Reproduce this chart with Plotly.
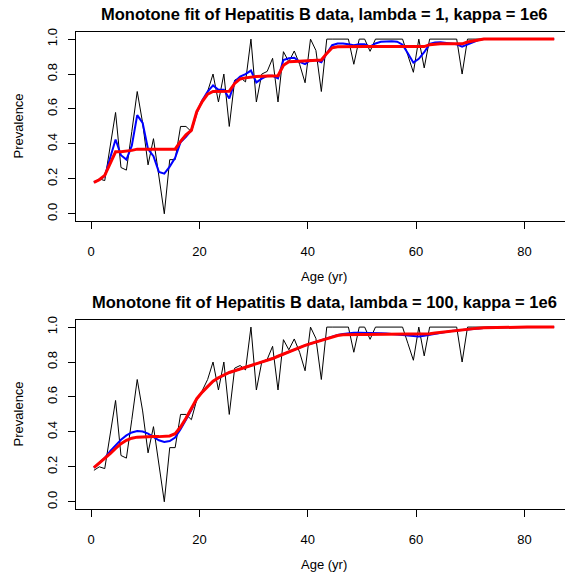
import plotly.graph_objects as go

# Age groups (years) and observed prevalence of Hepatitis B
ages = [a + 0.5 for a in range(86)]

observed = [
    0.18, 0.20, 0.19, 0.38, 0.58, 0.265, 0.25, 0.47, 0.70, 0.52,
    0.28, 0.43, 0.22, 0.00, 0.31, 0.31, 0.50, 0.50, 0.47, 0.585,
    0.636, 0.70, 0.80, 0.64, 0.80, 0.50, 0.765, 0.78, 0.755, 1.00,
    0.64, 0.80, 0.815, 0.89, 0.64, 0.928, 0.87, 0.932, 0.855, 0.75,
    1.00, 0.935, 0.70, 1.00, 1.00, 1.00, 1.00, 1.00, 0.856, 1.00,
    1.00, 0.93, 1.00, 1.00, 1.00, 1.00, 1.00, 1.00, 0.905, 0.81,
    1.00, 0.835, 1.00, 1.00, 1.00, 1.00, 1.00, 1.00, 0.80, 1.00,
    1.00, 1.00, 1.00, 1.00, 1.00, 1.00, 1.00, 1.00, 1.00, 1.00,
    1.00, 1.00, 1.00, 1.00, 1.00, 1.00,
]

# lambda = 1: unconstrained smooth (blue) and monotone fit (red)
smooth_l1 = [
    0.18, 0.195, 0.215, 0.32, 0.425, 0.335, 0.31, 0.39, 0.565, 0.52,
    0.37, 0.33, 0.24, 0.23, 0.27, 0.32, 0.41, 0.44, 0.478, 0.58,
    0.648, 0.70, 0.735, 0.71, 0.71, 0.66, 0.755, 0.785, 0.80, 0.82,
    0.752, 0.774, 0.79, 0.79, 0.775, 0.88, 0.89, 0.893, 0.87, 0.857,
    0.88, 0.88, 0.867, 0.918, 0.965, 0.975, 0.975, 0.97, 0.965, 0.97,
    0.97, 0.957, 0.975, 0.985, 0.988, 0.988, 0.985, 0.968, 0.918, 0.865,
    0.887, 0.925, 0.972, 0.98, 0.982, 0.978, 0.975, 0.97, 0.956, 0.97,
    0.985, 0.995, 1.0, 1.0, 1.0, 1.0, 1.0, 1.0, 1.0, 1.0,
    1.0, 1.0, 1.0, 1.0, 1.0, 1.0,
]
mono_l1 = [
    0.18, 0.195, 0.22, 0.287, 0.355, 0.355, 0.357, 0.363, 0.37, 0.37,
    0.37, 0.37, 0.37, 0.37, 0.37, 0.37, 0.415, 0.452, 0.478, 0.585,
    0.642, 0.685, 0.70, 0.70, 0.70, 0.702, 0.746, 0.772, 0.778, 0.784,
    0.786, 0.787, 0.788, 0.789, 0.79, 0.85, 0.87, 0.872, 0.874, 0.876,
    0.878, 0.879, 0.88, 0.918, 0.95, 0.956, 0.957, 0.957, 0.957, 0.957,
    0.957, 0.957, 0.957, 0.957, 0.957, 0.957, 0.957, 0.957, 0.957, 0.957,
    0.957, 0.957, 0.968, 0.972, 0.973, 0.973, 0.973, 0.973, 0.973, 0.983,
    0.99, 0.996, 1.0, 1.0, 1.0, 1.0, 1.0, 1.0, 1.0, 1.0,
    1.0, 1.0, 1.0, 1.0, 1.0, 1.0,
]

# lambda = 100: unconstrained smooth (blue) and monotone fit (red)
smooth_l100 = [
    0.195, 0.22, 0.25, 0.29, 0.325, 0.355, 0.38, 0.397, 0.405, 0.402,
    0.39, 0.37, 0.352, 0.343, 0.348, 0.368, 0.415, 0.47, 0.525, 0.59,
    0.628, 0.662, 0.69, 0.71, 0.725, 0.74, 0.75, 0.76, 0.77, 0.778,
    0.787, 0.797, 0.808, 0.82, 0.833, 0.846, 0.86, 0.872, 0.884, 0.895,
    0.905, 0.915, 0.925, 0.935, 0.945, 0.955, 0.96, 0.965, 0.967, 0.968,
    0.968, 0.967, 0.966, 0.965, 0.963, 0.96, 0.957, 0.953, 0.949, 0.946,
    0.946, 0.95, 0.956, 0.962, 0.968, 0.973, 0.977, 0.981, 0.984, 0.988,
    0.991, 0.994, 0.996, 0.997, 0.998, 0.998, 0.999, 0.999, 0.999, 1.0,
    1.0, 1.0, 1.0, 1.0, 1.0, 1.0,
]
mono_l100 = [
    0.195, 0.22, 0.245, 0.275, 0.305, 0.333, 0.352, 0.364, 0.37, 0.372,
    0.373, 0.373, 0.373, 0.374, 0.377, 0.39, 0.428, 0.478, 0.53, 0.59,
    0.628, 0.662, 0.69, 0.71, 0.725, 0.74, 0.75, 0.76, 0.77, 0.778,
    0.787, 0.797, 0.808, 0.82, 0.833, 0.846, 0.86, 0.872, 0.884, 0.895,
    0.905, 0.915, 0.925, 0.935, 0.945, 0.952, 0.956, 0.958, 0.958, 0.958,
    0.958, 0.958, 0.958, 0.958, 0.958, 0.958, 0.958, 0.958, 0.958, 0.958,
    0.958, 0.958, 0.962, 0.966, 0.97, 0.974, 0.977, 0.981, 0.984, 0.988,
    0.991, 0.994, 0.996, 0.997, 0.998, 0.998, 0.999, 0.999, 0.999, 1.0,
    1.0, 1.0, 1.0, 1.0, 1.0, 1.0,
]

x_ticks = [0, 20, 40, 60, 80]
y_ticks = [0.0, 0.2, 0.4, 0.6, 0.8, 1.0]

titles = [
    "Monotone fit of Hepatitis B data, lambda = 1, kappa = 1e6",
    "Monotone fit of Hepatitis B data, lambda = 100, kappa = 1e6",
]
x_label = "Age (yr)"
y_label = "Prevalence"

W, H = 565, 577
FONT = "Liberation Sans, Arial, Helvetica, sans-serif"

# panel boxes in pixels: (top, bottom)
panels = [(28.3, 218.3), (318.3, 508.3)]
box_left = 75.5

fig = go.Figure()

series = [(smooth_l1, mono_l1), (smooth_l100, mono_l100)]
for i, (blue, red) in enumerate(series):
    xa = "x" if i == 0 else "x2"
    ya = "y" if i == 0 else "y2"
    fig.add_trace(go.Scatter(x=ages, y=observed, mode="lines",
                             line=dict(color="black", width=1),
                             xaxis=xa, yaxis=ya, showlegend=False))
    fig.add_trace(go.Scatter(x=ages, y=blue, mode="lines",
                             line=dict(color="#0000ff", width=2),
                             xaxis=xa, yaxis=ya, showlegend=False))
    fig.add_trace(go.Scatter(x=ages, y=red, mode="lines",
                             line=dict(color="#ff0000", width=3),
                             xaxis=xa, yaxis=ya, showlegend=False))

axis_common = dict(
    showgrid=False, zeroline=False, showline=True, linecolor="black",
    linewidth=1, ticks="outside", ticklen=7, tickcolor="black", tickwidth=1,
    tickfont=dict(family=FONT, size=13, color="black"),
)

layout = dict(
    width=W, height=H, margin=dict(l=0, r=0, t=0, b=0),
    plot_bgcolor="white", paper_bgcolor="white",
    font=dict(family=FONT, color="black"),
)

annotations = []
for i, (top, bot) in enumerate(panels):
    sfx = "" if i == 0 else "2"
    dom_y = [1 - bot / H, 1 - top / H]
    layout["xaxis" + sfx] = dict(
        axis_common, domain=[box_left / W, 1.0], range=[-2.9, 87.5],
        tickvals=x_ticks, mirror=True, ticklabelstandoff=12,
        anchor="y" + sfx,
    )
    layout["yaxis" + sfx] = dict(
        axis_common, domain=dom_y, range=[-0.04, 1.04],
        tickvals=y_ticks, tickformat=".1f", tickangle=-90,
        ticklabelstandoff=5, anchor="x" + sfx,
    )
    annotations.append(dict(
        text="<b>" + titles[i] + "</b>", xref="paper", yref="paper",
        x=324 / W, y=1 - (top - 18.5) / H, showarrow=False,
        xanchor="center", yanchor="middle",
        font=dict(family=FONT, size=16.5, color="black"),
    ))
    annotations.append(dict(
        text=x_label, xref="paper", yref="paper",
        x=324 / W, y=1 - (bot + 56) / H, showarrow=False,
        xanchor="center", yanchor="middle",
        font=dict(family=FONT, size=13, color="black"),
    ))
    annotations.append(dict(
        text=y_label, xref="paper", yref="paper",
        x=18 / W, y=1 - ((top + bot) / 2) / H, showarrow=False,
        textangle=-90, xanchor="center", yanchor="middle",
        font=dict(family=FONT, size=13, color="black"),
    ))

layout["annotations"] = annotations
fig.update_layout(**layout)
fig.write_html("out.html")
